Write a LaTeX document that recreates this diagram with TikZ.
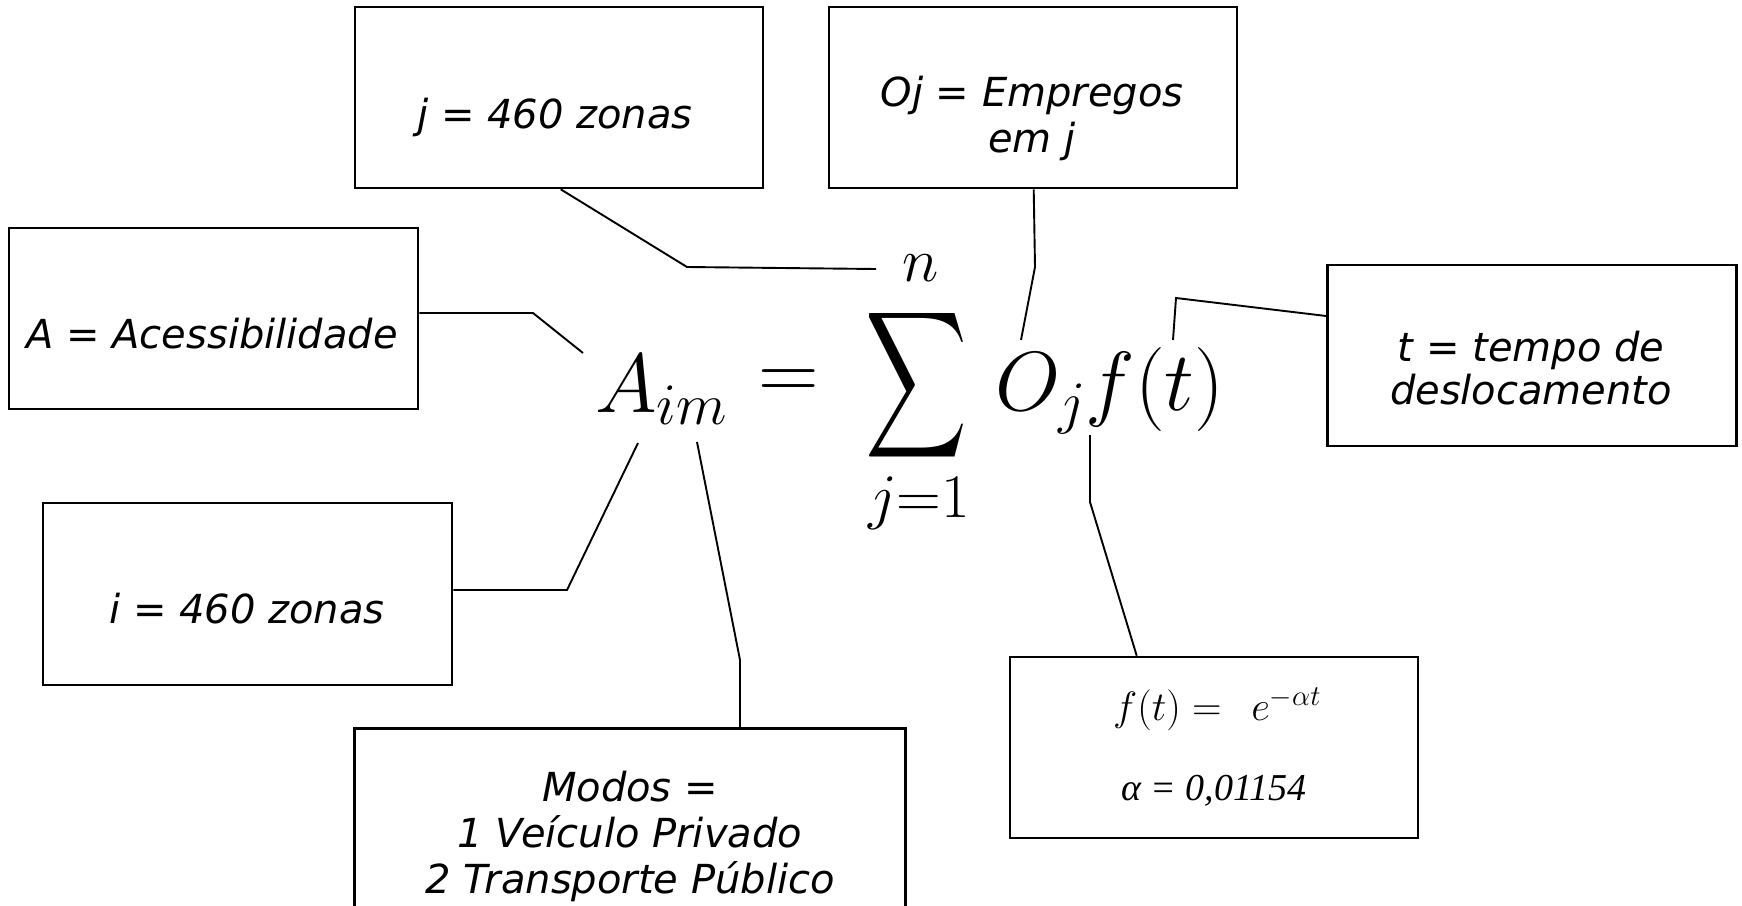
\RequirePackage{fix-cm}
\documentclass[tikz,border=0pt]{standalone}
\usepackage{fontspec}
\usepackage{graphicx}
\newfontfamily\lblfont{DejaVu Sans Oblique}
\newfontfamily\tmsfont{Liberation Serif}
\tikzset{
  boxnode/.style={draw, line width=2.6pt, rectangle, inner sep=0pt},
  lbl/.style={font=\lblfont\fontsize{40}{41}\selectfont, align=center, inner sep=0pt},
  conn/.style={line width=1.9pt, line join=miter},
  bigmath/.style={inner sep=0pt, font=\fontsize{84}{100}\selectfont},
  limmath/.style={inner sep=0pt, font=\fontsize{62}{74}\selectfont},
  smallmath/.style={inner sep=0pt, font=\fontsize{41}{48}\selectfont},
}
\begin{document}
\begin{tikzpicture}[x=1pt,y=-1pt]
\useasboundingbox (0,0) rectangle (1742,905);

% boxes
\node[boxnode, minimum width=408pt, minimum height=181pt] (jbox) at (559,97.5) {};
\node[boxnode, minimum width=408pt, minimum height=181pt] (ojbox) at (1033,97.5) {};
\node[boxnode, minimum width=409pt, minimum height=181pt] (abox) at (213.5,318.5) {};
\node[boxnode, minimum width=409pt, minimum height=181pt] (tbox) at (1532,355.5) {};
\node[boxnode, minimum width=409pt, minimum height=182pt] (ibox) at (247.5,594) {};
\node[boxnode, minimum width=408pt, minimum height=181pt] (fbox) at (1214,747.5) {};
\node[boxnode, minimum width=551pt, minimum height=200pt, anchor=north west] (mbox) at (353,727) {};

% labels
\node[lbl, anchor=base] (jlbl) at (555,128) {j = 460 zonas};
\node[lbl, anchor=base] (albl) at (212,348) {A = Acessibilidade};
\node[lbl, anchor=base] (ilbl) at (247,623) {i = 460 zonas};
\node[lbl, font=\lblfont\fontsize{40}{46}\selectfont] (ojlbl) at (1032,118.5) {Oj = Empregos\\em j};
\node[lbl, font=\lblfont\fontsize{40}{43}\selectfont] (tlbl) at (1531,368.5) {t = tempo de\\deslocamento};
\node[lbl, font=\lblfont\fontsize{40}{46}\selectfont] (mlbl) at (630,836) {Modos =\\1 Veículo Privado\\2 Transporte Público};
\node[smallmath, anchor=base] (flbl) at (1217,720) {$f(t) =\;\, e^{-\alpha t}$};
\node[inner sep=0pt, anchor=base, font=\tmsfont\itshape\fontsize{38}{46}\selectfont] (alpha) at (1214,800) {α = 0,01154};

% formula
\node[bigmath, anchor=base west] (aim) at (595,412) {$A_{im}$};
\node[bigmath] (eq) at (789,385) {$=$};
\node[inner sep=0pt] (sum) at (917,385) {\resizebox*{102pt}{164pt}{$\displaystyle\sum$}};
\node[limmath] (upper) at (921,268) {$n$};
\node[limmath] (lower) at (919,503) {$j{=}1$};
\node[bigmath, anchor=base west] (ojf) at (995,410) {$O_j f(t)$};

% connector ends
\coordinate (jend) at (876,269);
\coordinate (ojend) at (1021,340);
\coordinate (aend) at (583,353);
\coordinate (iend) at (638,443);
\coordinate (mend) at (697,442);
\coordinate (tend) at (1173,340);
\coordinate (fend) at (1090,435);

% connectors
\draw[conn] ([xshift=207pt]jbox.south west) -- (687,267) -- (jend);
\draw[conn] ([xshift=206pt]ojbox.south west) -- (1035,267) -- (ojend);
\draw[conn] ([yshift=5.5pt]abox.east) -- (533,313) -- (aend);
\draw[conn] ([yshift=4pt]ibox.east) -- (567,590) -- (iend);
\draw[conn] ([xshift=387pt]mbox.north west) -- (740,660) -- (mend);
\draw[conn] ([yshift=39.5pt]tbox.west) -- (1176,298) -- (tend);
\draw[conn] ([xshift=128pt]fbox.north west) -- (1090,502) -- (fend);
\end{tikzpicture}
\end{document}
